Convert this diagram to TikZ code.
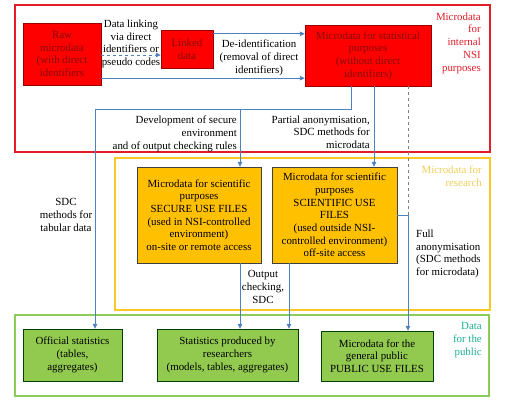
\documentclass[tikz,border=0pt]{standalone}
\usepackage{fontspec}
\setmainfont{Liberation Serif}
\usepackage{xcolor}
\usepackage{tikz}
\usetikzlibrary{arrows.meta, positioning, calc}
\definecolor{nsired}{RGB}{255, 0, 0}
\definecolor{nsiframe}{RGB}{228, 28, 40}
\definecolor{nsitext}{RGB}{135, 10, 10}
\definecolor{resgold}{RGB}{255, 192, 0}
\definecolor{resframe}{RGB}{252, 200, 40}
\definecolor{reslabel}{RGB}{240, 205, 90}
\definecolor{pubgreen}{RGB}{146, 202, 80}
\definecolor{pubframe}{RGB}{140, 205, 90}
\definecolor{publabel}{RGB}{30, 175, 150}
\definecolor{flowblue}{RGB}{79, 129, 189}

\begin{document}
\begin{tikzpicture}[
    x=1pt, y=-1pt,
    every node/.style={font=\fontsize{10.9}{12.7}\selectfont, inner sep=1pt},
    redbox/.style={rectangle, draw=nsired!60!black, fill=nsired, text=nsitext, align=center},
    goldbox/.style={rectangle, draw=black!75, fill=resgold, align=center},
    greenbox/.style={rectangle, draw=green!25!black, fill=pubgreen, align=center},
    frame/.style={line width=1.8pt},
    flow/.style={draw=flowblue, line width=0.8pt, -{Triangle[length=5pt, width=4.5pt]}},
    note/.style={align=center}
]
\useasboundingbox (0,0) rectangle (505,408);

% Frames
\draw[frame, nsiframe] (15,5) rectangle (490,152);
\draw[frame, resframe] (115,158) rectangle (490,310);
\draw[frame, pubframe] (15,315) rectangle (489,396);

% Frame labels
\node[anchor=east, align=right, text=nsiframe] (lblnsi) at (482,43) {Microdata\\for\\internal\\NSI\\purposes};
\node[anchor=east, align=right, text=reslabel] (lblres) at (483,176) {Microdata for\\research};
\node[anchor=east, align=right, text=publabel] (lblpub) at (483,340) {Data\\for the\\public};

% Row 1: internal microdata
\node[redbox, minimum width=78pt, minimum height=62pt] (raw) at (62,54) {Raw\\microdata\\(with direct\\identifiers};
\node[redbox, minimum width=52pt, minimum height=38pt] (linked) at (187,49) {Linked\\data};
\node[redbox, minimum width=126pt, minimum height=61pt] (msp) at (368,55.5) {Microdata for statistical\\purposes\\(without direct\\identifiers)};

% Row 2: research microdata
\node[goldbox, minimum width=124pt, minimum height=96pt] (secure) at (199,215) {Microdata for scientific\\purposes\\SECURE USE FILES\\(used in NSI-controlled\\environment)\\on-site or remote access};
\node[goldbox, minimum width=125pt, minimum height=96pt] (suf) at (334.5,215) {Microdata for scientific\\purposes\\SCIENTIFIC USE\\FILES\\(used outside NSI-\\controlled environment)\\off-site access};

% Row 3: public data
\node[greenbox, minimum width=99pt, minimum height=52pt] (official) at (72.5,355) {Official statistics\\(tables,\\aggregates)};
\node[greenbox, minimum width=141pt, minimum height=52pt] (researchers) at (227.5,355) {Statistics produced by\\researchers\\(models, tables, aggregates)};
\node[greenbox, minimum width=112pt, minimum height=50pt] (public) at (377,356) {Microdata for the\\general public\\PUBLIC USE FILES};

% Connector labels
\node[note] (lbllink) at (131,44) {Data linking\\via direct\\identifiers or\\pseudo codes};
\node[note] (lbldeid) at (259,58) {De-identification\\(removal of direct\\identifiers)};
\node[anchor=east, align=right] (lbldev) at (238,134) {Development of secure\\environment\\and of output checking rules};
\node[anchor=east, align=right] (lblpart) at (371,132) {Partial anonymisation,\\SDC methods for\\microdata};
\node[note] (lbltab) at (66,215) {SDC\\methods for\\tabular data};
\node[note] (lblout) at (263,287) {Output\\checking,\\SDC};
\node[anchor=west, align=left] (lblfull) at (415,254) {Full\\anonymisation\\(SDC methods\\for microdata)};

% Connectors
\coordinate (split) at (95,109);
\coordinate (dev) at (240,109);
\draw[flow, dashed] ([yshift=-1pt]raw.east) -- ([yshift=-1pt]raw.east -| linked.west);
\draw[flow] ([yshift=-4pt]linked.north east) -- ([yshift=-4pt]linked.north east -| msp.west);
\draw[flow] ([yshift=7pt]raw.south east) -- ([yshift=7pt]raw.south east -| msp.west);
\draw[flow, -] ([xshift=-17pt]msp.south) |- (split);
\draw[flow] (split) -- (split |- official.north);
\draw[flow] (dev) -- (dev |- secure.north);
\draw[flow] ([xshift=6pt]msp.south) -- ([xshift=6pt]msp.south |- suf.north);
\draw[gray, dashed, line width=0.6pt] ([xshift=40pt]msp.south) -- ([xshift=40pt]msp.south |- suf.east);
\draw[flow] (suf.east) -| ([xshift=31pt]public.north);
\draw[flow] ([xshift=41pt]secure.south) -- ([xshift=41pt]secure.south |- researchers.north);
\draw[flow] ([xshift=-45.5pt]suf.south) -- ([xshift=-45.5pt]suf.south |- researchers.north);

\end{tikzpicture}
\end{document}
